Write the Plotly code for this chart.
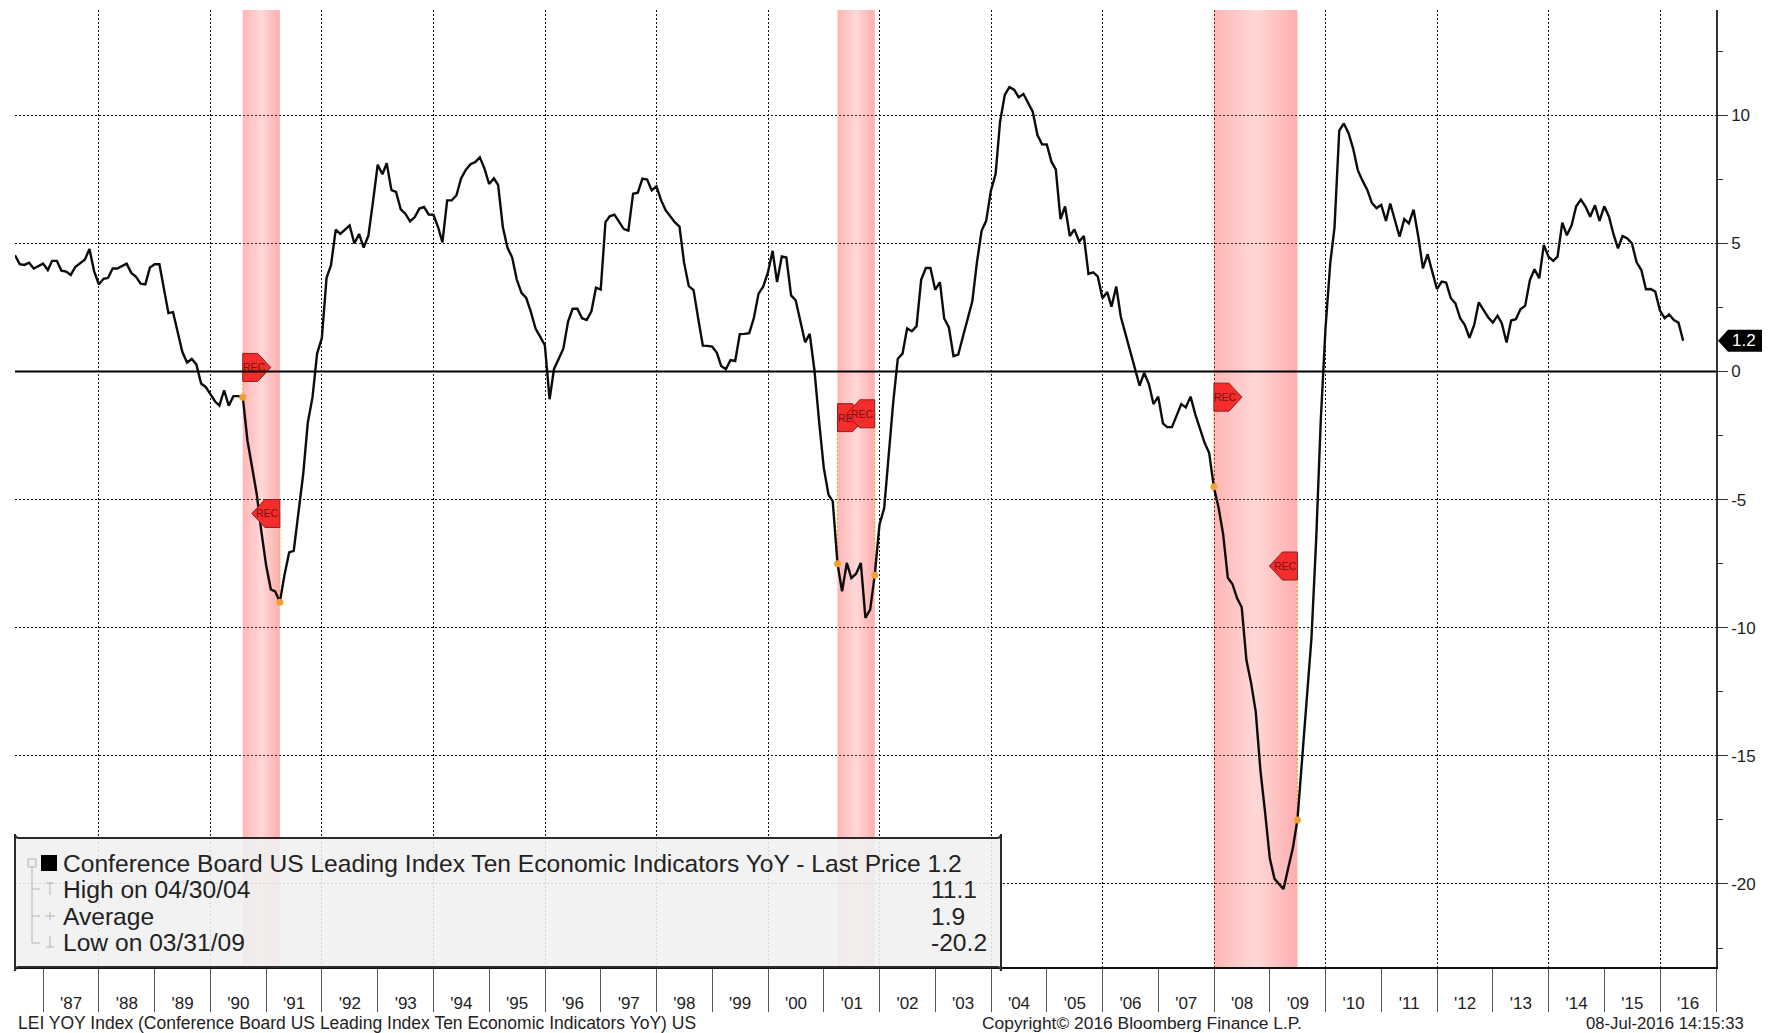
import pandas as pd
import plotly.graph_objects as go

lei_values = [
    4.54,4.19,4.16,4.25,4.02,4.12,4.21,3.96,4.32,4.32,
    3.94,3.90,3.77,4.09,4.23,4.36,4.78,3.92,3.40,3.62,
    3.65,4.02,4.02,4.12,4.21,3.85,3.70,3.43,3.40,4.06,
    4.19,4.19,3.23,2.28,2.32,1.50,0.77,0.35,0.49,0.28,
    -0.47,-0.60,-0.91,-1.17,-1.33,-0.73,-1.33,-0.96,-0.96,-1.0,
    -2.7,-3.75,-4.8,-6.25,-7.56,-8.5,-8.58,-9.0,-7.95,-7.06,
    -7.0,-5.5,-4.0,-2.0,-1.0,0.7,1.3,3.66,4.15,5.54,
    5.37,5.54,5.70,5.0,5.37,4.84,5.3,6.62,8.07,7.7,
    8.13,7.08,7.01,6.33,6.16,5.86,6.03,6.36,6.42,6.13,
    6.12,5.63,5.04,6.68,6.68,6.88,7.54,7.87,8.09,8.17,
    8.36,7.93,7.32,7.54,7.28,5.63,4.84,4.45,3.59,3.07,
    2.87,2.34,1.68,1.36,1.03,-1.08,0.1,0.5,0.89,1.95,
    2.45,2.45,2.08,2.01,2.35,3.27,3.2,5.83,6.06,6.12,
    5.83,5.56,5.5,6.94,6.98,7.53,7.49,7.07,7.23,6.68,
    6.31,6.06,5.83,5.66,4.25,3.33,3.18,2.09,1.01,1.0,
    0.97,0.73,0.22,0.09,0.45,0.41,1.46,1.47,1.5,2.09,
    3.04,3.31,3.86,4.71,3.49,4.49,4.45,2.97,2.78,1.96,
    1.14,1.47,0.05,-1.92,-3.75,-4.8,-5.07,-7.5,-8.58,-7.47,
    -8.06,-7.89,-7.47,-9.62,-9.29,-7.95,-5.98,-5.33,-3.3,-1.2,
    0.5,0.7,1.68,1.57,1.77,3.58,4.04,4.04,3.19,3.49,
    2.07,1.72,0.6,0.66,1.35,2.07,2.73,4.24,5.49,5.88,
    7.06,7.72,9.75,10.8,11.1,11.0,10.7,10.83,10.47,10.14,
    9.23,8.87,8.86,8.18,7.89,5.95,6.44,5.29,5.55,5.07,
    5.29,3.81,3.87,3.71,2.86,3.1,2.53,3.32,2.14,1.48,
    0.83,0.17,-0.55,-0.05,-0.49,-1.27,-0.98,-2.02,-2.17,-2.17,
    -1.73,-1.27,-1.4,-0.98,-1.67,-2.19,-2.78,-3.18,-4.53,-5.33,
    -6.34,-8.05,-8.29,-8.85,-9.2,-11.27,-12.17,-13.28,-15.6,-17.2,
    -19.0,-19.8,-20.0,-20.2,-19.4,-18.6,-17.5,-15.2,-12.9,-10.4,
    -6.54,-1.9,1.7,4.23,5.63,9.4,9.68,9.3,8.7,7.85,
    7.44,7.1,6.58,6.38,6.5,5.88,6.56,5.88,5.26,5.95,
    5.78,6.32,5.26,4.03,4.58,3.9,3.22,3.51,3.47,2.86,
    2.66,2.08,1.82,1.32,1.82,2.7,2.43,2.12,1.91,2.18,
    1.88,1.13,1.99,2.04,2.43,2.57,3.57,3.99,3.64,4.94,
    4.48,4.32,4.48,5.81,5.32,5.71,6.45,6.71,6.43,6.04,
    6.49,5.88,6.45,6.04,5.39,4.81,5.29,5.19,5.0,4.26,
    3.96,3.21,3.22,3.12,2.38,2.08,2.23,2.01,1.91,1.2,
]
lei_dates = pd.date_range("1986-06-30", periods=len(lei_values), freq="ME")

recession_starts = ["1990-07-31", "2001-03-31", "2007-12-31"]
recession_ends = ["1991-03-31", "2001-11-30", "2009-06-30"]
marker_dates = ["1990-07-31", "1991-03-31", "2001-03-31", "2001-11-30", "2007-12-31", "2009-06-30"]
marker_values = [-1.0, -9.0, -7.5, -7.95, -4.5, -17.5]
flag_values = [0.16, -5.54, -1.8, -1.65, -1.0, -7.59]
flag_sides = ["start", "end", "start", "end", "start", "end"]
flag_texts = ["REC", "REC", "RE", "REC", "REC", "REC"]

y_ticks = [10, 5, 0, -5, -10, -15, -20]
y_labels = ["10", "5", "0", "-5", "-10", "-15", "-20"]
LAST_VALUE = 1.2

legend_rows = [
    "Conference Board US Leading Index Ten Economic Indicators YoY - Last Price 1.2",
    "High on 04/30/04", "Average", "Low on 03/31/09",
]
legend_values = ["", "11.1", "1.9", "-20.2"]

X_RANGE = ["1986-06-30", "2017-01-01"]
Y_RANGE = [-23.24, 14.11]
L, R, T, B = 15, 1716, 10, 967
FONT = "Liberation Sans"
INK = "#222222"


def px(x):
    return (x - L) / (R - L)


def py(y):
    return (B - y) / (B - T)


def paper_line(x0, y0, x1, y1, color="#b4b4b4", width=1):
    return dict(type="line", xref="paper", yref="paper", x0=px(x0), y0=py(y0), x1=px(x1), y1=py(y1),
                line=dict(color=color, width=width), layer="above")


fig = go.Figure()

# recession shading
for s, e in zip(recession_starts, recession_ends):
    fig.add_trace(go.Scatter(
        x=[s, e, e, s, s], y=[Y_RANGE[0], Y_RANGE[0], Y_RANGE[1], Y_RANGE[1], Y_RANGE[0]],
        xaxis="x2", yaxis="y", mode="lines", line=dict(width=0), fill="toself",
        fillgradient=dict(type="horizontal", colorscale=[
            [0, "rgba(255,60,60,0.38)"], [0.5, "rgba(255,60,60,0.2)"], [1, "rgba(255,60,60,0.42)"]]),
        hoverinfo="skip", showlegend=False))

# dotted connectors from flags to points
for d, v, f in zip(marker_dates, marker_values, flag_values):
    fig.add_trace(go.Scatter(x=[d, d], y=[f, v], xaxis="x2", yaxis="y", mode="lines",
                             line=dict(color="#f0a030", width=1.2, dash="2px,2px"),
                             hoverinfo="skip", showlegend=False))

fig.add_trace(go.Scatter(x=lei_dates, y=lei_values, xaxis="x2", yaxis="y", mode="lines",
                         line=dict(color="#0c0c0c", width=2.4), showlegend=False))
fig.add_trace(go.Scatter(x=marker_dates, y=marker_values, xaxis="x2", yaxis="y", mode="markers",
                         marker=dict(color="#f0a030", size=7), showlegend=False))

# axis arrowheads
fig.add_trace(go.Scatter(x=["2017-03-01"] * len(y_ticks), y=y_ticks, xaxis="x", yaxis="y", mode="markers",
                         marker=dict(symbol="triangle-right", color="#111111", size=8),
                         cliponaxis=False, hoverinfo="skip", showlegend=False))

shapes = []
annotations = []

# REC flags
for d, f, side, txt in zip(marker_dates, flag_values, flag_sides, flag_texts):
    path = ("M 0 -14 L 15 -14 L 28 0 L 15 14 L 0 14 Z" if side == "start"
            else "M 0 -14 L -15 -14 L -28 0 L -15 14 L 0 14 Z")
    shapes.append(dict(type="path", xref="x", yref="y", xsizemode="pixel", ysizemode="pixel",
                       xanchor=d, yanchor=f, path=path, fillcolor="#f42c2c",
                       line=dict(color="#8c2020", width=1), layer="above"))
    annotations.append(dict(x=d, y=f, xref="x", yref="y", text=txt, showarrow=False,
                            xshift=(8 if txt == "RE" else 12) if side == "start" else -12,
                            font=dict(family=FONT, size=10.5, color="#7a1010")))

# zero line on top of flags
shapes.append(dict(type="line", xref="paper", yref="y", x0=0, x1=1, y0=0, y1=0,
                   line=dict(color="#000000", width=2), layer="above"))

# legend box
x0, x1, y0, y1, r = px(15), px(1001), py(838), py(967), 4
sx, sy = r / (R - L), r / (B - T)
shapes.append(dict(type="path", xref="paper", yref="paper",
                   path=(f"M {x0+sx} {y1} L {x1-sx} {y1} Q {x1} {y1} {x1} {y1-sy} "
                         f"L {x1} {y0+sy} Q {x1} {y0} {x1-sx} {y0} L {x0+sx} {y0} "
                         f"Q {x0} {y0} {x0} {y0+sy} L {x0} {y1-sy} Q {x0} {y1} {x0+sx} {y1} Z"),
                   fillcolor="rgba(240,240,240,0.88)", line=dict(color="#2a2a2a", width=2), layer="above"))

# legend tree decoration
shapes += [
    paper_line(32, 866, 32, 943),
    paper_line(32, 889, 40, 889), paper_line(32, 916, 40, 916), paper_line(32, 943, 40, 943),
    dict(type="rect", xref="paper", yref="paper", x0=px(28), x1=px(36), y0=py(867), y1=py(859),
         fillcolor="#eeeeee", line=dict(color="#b4b4b4", width=1), layer="above"),
    dict(type="rect", xref="paper", yref="paper", x0=px(41), x1=px(57), y0=py(871), y1=py(855),
         fillcolor="#000000", line=dict(width=0), layer="above"),
    paper_line(46, 883, 54, 883), paper_line(50, 883, 50, 895),
    paper_line(45, 916, 55, 916), paper_line(50, 912, 50, 920),
    paper_line(50, 936, 50, 947), paper_line(46, 947, 54, 947),
]

row_ys = [863, 889, 916, 942]
for txt, val, yy in zip(legend_rows, legend_values, row_ys):
    annotations.append(dict(x=px(61), y=py(yy), xref="paper", yref="paper", text=txt, showarrow=False,
                            xanchor="left", yanchor="middle", font=dict(family=FONT, size=24.6, color=INK)))
    if val:
        annotations.append(dict(x=px(929), y=py(yy), xref="paper", yref="paper", text=val, showarrow=False,
                                xanchor="left", yanchor="middle", font=dict(family=FONT, size=24.6, color=INK)))

# last value tag
shapes.append(dict(type="path", xref="paper", yref="y", xsizemode="pixel", ysizemode="pixel",
                   xanchor=1, yanchor=LAST_VALUE, path="M 2 0 L 12 -11 L 46 -11 L 46 11 L 12 11 Z",
                   fillcolor="#000000", line=dict(width=0), layer="above"))
annotations.append(dict(x=1, y=LAST_VALUE, xref="paper", yref="y", text=str(LAST_VALUE), showarrow=False,
                        xanchor="left", xshift=14, font=dict(family=FONT, size=17, color="#ffffff")))

# footer
for txt, x, anchor, size in [
    ("LEI YOY Index (Conference Board US Leading Index Ten Economic Indicators YoY) US", 16, "left", 17.5),
    ("Copyright\u00a9 2016 Bloomberg Finance L.P.", 980, "left", 17.4),
    ("08-Jul-2016 14:15:33", 1746, "right", 16.7),
]:
    annotations.append(dict(x=px(x), y=py(1023), xref="paper", yref="paper", text=txt, showarrow=False,
                            xanchor=anchor, yanchor="middle", font=dict(family=FONT, size=size, color=INK)))

fig.update_layout(
    width=1769, height=1033, margin=dict(l=L, r=1769 - R, t=T, b=1033 - B),
    paper_bgcolor="#ffffff", plot_bgcolor="#ffffff", showlegend=False,
    font=dict(family=FONT, color=INK),
    xaxis=dict(type="date", range=X_RANGE, dtick="M12", tick0="1987-01-01", tickformat="'%y",
               ticklabelmode="period", ticks="outside", ticklen=43, tickcolor="#555555", tickwidth=1,
               ticklabelstandoff=-23, tickfont=dict(family=FONT, size=17, color=INK),
               labelalias={"'86": " "}, automargin=False,
               showgrid=False, zeroline=False, showline=True, linecolor="#111111", linewidth=2),
    xaxis2=dict(type="date", range=X_RANGE, overlaying="x", dtick="M24", tick0="1988-01-01",
                showticklabels=False, ticks="", showgrid=True, gridcolor="#111111", gridwidth=1.3,
                griddash="2px,2px", zeroline=False, showline=False, automargin=False),
    yaxis=dict(range=Y_RANGE, side="right", tickvals=y_ticks, ticktext=y_labels, ticks="outside",
               ticklen=10, tickcolor="#333333", showgrid=True, gridcolor="#111111", gridwidth=1.3,
               griddash="2px,2px", zeroline=False, showline=True, linecolor="#333333", linewidth=1.5,
               automargin=False, tickfont=dict(family=FONT, size=17, color=INK),
               minor=dict(dtick=2.5, tick0=2.5, ticks="outside", ticklen=5, tickcolor="#333333", showgrid=False)),
    shapes=shapes, annotations=annotations,
)

fig.write_html("out.html", config={"displayModeBar": False},
               post_script="document.body.style.margin='0';document.body.style.overflow='hidden';")
